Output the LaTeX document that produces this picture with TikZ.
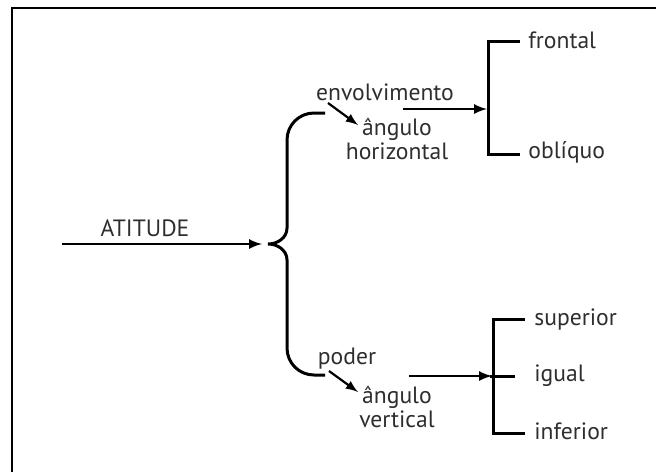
\documentclass[tikz,border=0pt]{standalone}
\usepackage{fontspec}
\setmainfont{PT Sans}
\usetikzlibrary{positioning}
\definecolor{textgray}{HTML}{2E2E2E}
\tikzset{
	lbl/.style={text=textgray,inner sep=0pt,font=\fontsize{11.8}{10.5}\selectfont},
	lbltwo/.style={lbl,align=center},
	bracket/.style={line width=1.5pt},
	bigarr/.style={->,>=latex,line width=1.2pt},
	smallarr/.style={->,>=latex,line width=1.1pt},
}
\begin{document}
\begin{tikzpicture}[x=0.5pt,y=-0.5pt]
		\useasboundingbox (0,0) rectangle (656,472);
		\draw[line width=1pt] (11.5,472) -- (11.5,8) -- (656,8);
		
		\node[lbl] (atitude) at (145,228) {ATITUDE};
		\coordinate (start) at (62,244);
		\coordinate (tip) at (262,244);
		\draw[bigarr] (start) -- (tip);
		
		% chave
		\draw[bracket] (325,113) -- (314,113) to[out=180,in=90] (287,140) -- (287,228)
			to[out=-90,in=0] (268,244) to[out=0,in=90] (287,260) -- (287,348)
			to[out=-90,in=180] (314,375) -- (325,375);
		
		\node[lbl] (env) at (385,92) {envolvimento};
		\node[lbltwo] (angh) at (397,139) {ângulo\\horizontal};
		\node[lbl] (poder) at (347,359) {poder};
		\node[lbltwo] (angv) at (397,407) {ângulo\\vertical};
		
		\coordinate (e1) at (328,103);
		\coordinate (e2) at (358,125);
		\coordinate (p1) at (329,371);
		\coordinate (p2) at (358,392);
		\draw[smallarr] (e1) -- (e2);
		\draw[smallarr] (p1) -- (p2);
		
		\coordinate (h1) at (403,109);
		\coordinate (h2) at (487,109);
		\coordinate (v1) at (409,376);
		\coordinate (v2) at (492,376);
		\draw[bigarr] (h1) -- (h2);
		\draw[bigarr] (v1) -- (v2);
		
		\draw[bracket] (520,41) -- (488,41) -- (488,154) -- (520,154);
		\draw[bracket] (525,319) -- (493,319) -- (493,433) -- (525,433);
		\draw[bracket] (490,376) -- (515,376);
		
		\node[lbl,anchor=west] (frontal) at (528,40) {frontal};
		\node[lbl,anchor=west] (obliquo) at (528,152) {oblíquo};
		\node[lbl,anchor=west] (superior) at (534,319) {superior};
		\node[lbl,anchor=west] (igual) at (534,376) {igual};
		\node[lbl,anchor=west] (inferior) at (534,431) {inferior};
	\end{tikzpicture}
\end{document}
